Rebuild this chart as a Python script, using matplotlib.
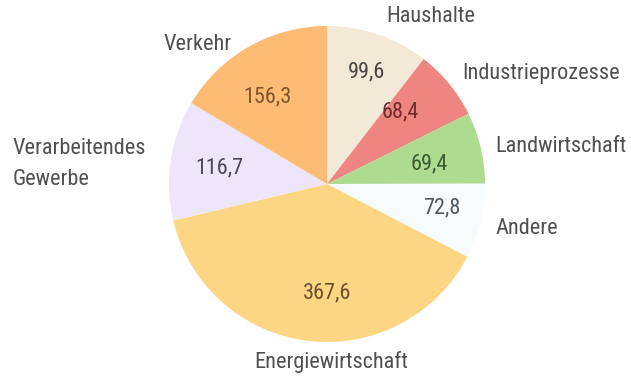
import numpy as np
import matplotlib
matplotlib.use("Agg")
import matplotlib.pyplot as plt

# Treibhausgasemissionen nach Sektoren (Mio. t CO2-Äquivalente)
sectors = ["Haushalte", "Industrieprozesse", "Landwirtschaft", "Andere",
           "Energiewirtschaft", "Verarbeitendes\nGewerbe", "Verkehr"]
values = [99.6, 68.4, 69.4, 72.8, 367.6, 116.7, 156.3]
value_labels = ["99,6", "68,4", "69,4", "72,8", "367,6", "116,7", "156,3"]

colors = ["#f2e9d6", "#ef8580", "#addb8f", "#f7fbfd", "#fdd683", "#ede6fa", "#fdbb73"]
value_colors = ["#4a4740", "#6e2e2c", "#3d5a33", "#4e5860", "#6b5030", "#4a4858", "#7e552a"]

W, H = 631, 379
FONT = ["Roboto Condensed", "Archivo Narrow", "Barlow Condensed", "DejaVu Sans"]


def py(y):
    return H - y


fig = plt.figure(figsize=(W / 100, H / 100), dpi=100)
ax = fig.add_axes([0, 0, 1, 1])

cx, cy, R = 327, py(184), 158
wedges, _ = ax.pie(values, colors=colors, startangle=90, counterclock=False,
                   center=(cx, cy), radius=R, frame=True,
                   wedgeprops=dict(linewidth=0))
ax.set_xlim(0, W)
ax.set_ylim(0, H)
ax.set_aspect("equal")
ax.axis("off")

# value labels inside the wedges (radius fraction and angular offset per wedge)
radial = [0.75, 0.65, 0.66, 0.74, 0.69, 0.69, 0.67]
nudge = [-0.8, 5.2, -2.0, 1.8, 7.2, 0.0, 4.7]
for w, lab, col, r, dn in zip(wedges, value_labels, value_colors, radial, nudge):
    mid = np.deg2rad((w.theta1 + w.theta2) / 2 + dn)
    ax.text(cx + r * R * np.cos(mid), cy + r * R * np.sin(mid), lab,
            ha="center", va="center", fontsize=16, color=col, family=FONT)

# sector names around the pie
outer = [
    (431, 17, "center"),
    (462, 73, "left"),
    (495, 147, "left"),
    (495, 228, "left"),
    (331, 362, "center"),
    (13, 164, "left"),
    (198, 44, "center"),
]
for name, (x, y, ha) in zip(sectors, outer):
    ax.text(x, py(y), name, ha=ha, va="center", fontsize=16, color="#505050",
            family=FONT, linespacing=1.65)

fig.savefig("out.png", dpi=100, facecolor="white")
